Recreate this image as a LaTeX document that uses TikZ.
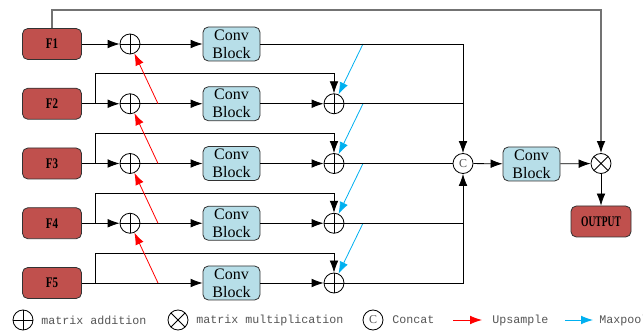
\documentclass[tikz,border=0pt]{standalone}
\usepackage{fontspec}
\usepackage{graphicx}
\setmainfont{Liberation Serif}
\setmonofont{Liberation Mono}
\usetikzlibrary{arrows.meta}

\definecolor{featred}{RGB}{192,80,77}
\definecolor{convblue}{RGB}{183,222,232}
\definecolor{edgegray}{RGB}{50,50,50}
\definecolor{upred}{RGB}{255,0,0}
\definecolor{poolblue}{RGB}{0,176,240}
\definecolor{keygray}{RGB}{85,85,85}

% condensed bold labels
\newcommand{\narrowlab}[2]{\scalebox{#1}[1]{\bfseries #2}}

\tikzset{
  feat/.style={draw=edgegray, fill=featred, rounded corners=4pt, line width=0.6pt,
    minimum width=44.25pt, minimum height=23.25pt, inner sep=0pt,
    font=\fontsize{11}{11}\selectfont},
  conv/.style={draw=edgegray, fill=convblue, rounded corners=4pt, line width=0.6pt,
    minimum width=42.75pt, minimum height=25.5pt, inner sep=0pt, align=center,
    font=\fontsize{12}{13.5}\selectfont},
  opr/.style={circle, draw, line width=0.6pt, minimum size=15pt, inner sep=0pt},
  plus/.style={opr, path picture={
    \draw[line width=0.6pt] (path picture bounding box.north) -- (path picture bounding box.south)
      (path picture bounding box.west) -- (path picture bounding box.east);}},
  times/.style={opr, path picture={
    \draw[line width=0.6pt] (path picture bounding box.north west) -- (path picture bounding box.south east)
      (path picture bounding box.south west) -- (path picture bounding box.north east);}},
  cat/.style={opr, text=keygray, font=\fontsize{9}{9}\selectfont},
  arr/.style={-{Latex[length=9pt,width=6.5pt]}, line width=0.6pt},
  up/.style={arr, color=upred},
  pool/.style={arr, color=poolblue},
  key/.style={anchor=west, inner sep=0pt, text=keygray, font=\ttfamily\fontsize{8.75}{8.75}\selectfont},
}

\begin{document}
\begin{tikzpicture}[x=0.75pt,y=0.75pt,yscale=-1,xscale=1]
\useasboundingbox (0,0) rectangle (643,331);
% input features
\node[feat] (F1) at (52,44) {\narrowlab{0.75}{F1}};
\node[feat] (F2) at (52,103.75) {\narrowlab{0.75}{F2}};
\node[feat] (F3) at (52,163.5) {\narrowlab{0.75}{F3}};
\node[feat] (F4) at (52,223.25) {\narrowlab{0.75}{F4}};
\node[feat] (F5) at (52,283) {\narrowlab{0.75}{F5}};
% top-down additions
\node[plus] (lp1) at (130,44) {};
\node[plus] (lp2) at (130,103.75) {};
\node[plus] (lp3) at (130,163.5) {};
\node[plus] (lp4) at (130,223.25) {};
% conv blocks
\node[conv] (cv1) at (231.5,44) {Conv\\Block};
\node[conv] (cv2) at (231.5,103.75) {Conv\\Block};
\node[conv] (cv3) at (231.5,163.5) {Conv\\Block};
\node[conv] (cv4) at (231.5,223.25) {Conv\\Block};
\node[conv] (cv5) at (231.5,283) {Conv\\Block};
% bottom-up additions
\node[plus] (rp2) at (334,103.75) {};
\node[plus] (rp3) at (334,163.5) {};
\node[plus] (rp4) at (334,223.25) {};
\node[plus] (rp5) at (334,283) {};
% fusion
\node[cat] (cat) at (463,163.5) {C};
\node[conv] (cv6) at (531.5,164) {Conv\\Block};
\node[times] (mul) at (601,163.5) {};
\node[feat, minimum width=45pt] (out) at (601,221.5) {\narrowlab{0.65}{OUTPUT}};

% branch points
\coordinate (b2) at (95,103.75);
\coordinate (b3) at (95,163.5);
\coordinate (b4) at (95,223.25);
\coordinate (b5) at (95,283);
\coordinate (u2) at (158,103.75);
\coordinate (u3) at (158,163.5);
\coordinate (u4) at (158,223.25);
\coordinate (u5) at (158,283);
\coordinate (d1) at (363,44);
\coordinate (d2) at (363,103.75);
\coordinate (d3) at (363,163.5);
\coordinate (d4) at (363,223.25);

% main rows
\draw[arr] (F1) -- (lp1);
\draw[arr] (F2) -- (lp2);
\draw[arr] (F3) -- (lp3);
\draw[arr] (F4) -- (lp4);
\draw[arr] (F5) -- (cv5);
\draw[arr] (lp1) -- (cv1);
\draw[arr] (lp2) -- (cv2);
\draw[arr] (lp3) -- (cv3);
\draw[arr] (lp4) -- (cv4);
\draw[arr] (cv2) -- (rp2);
\draw[arr] (cv3) -- (rp3);
\draw[arr] (cv4) -- (rp4);
\draw[arr] (cv5) -- (rp5);
% skip lines
\draw[arr] (b2) -- ++(0,-30) -| (rp2);
\draw[arr] (b3) -- ++(0,-30) -| (rp3);
\draw[arr] (b4) -- ++(0,-30) -| (rp4);
\draw[arr] (b5) -- ++(0,-30) -| (rp5);
\draw[-{Latex[length=9pt,width=6.5pt,color=black]}, draw=gray!90!black, line width=0.9pt] (F1.north) -- ++(0,-18) -| (mul);
% upsample
\draw[up] (u2) -- (lp1);
\draw[up] (u3) -- (lp2);
\draw[up] (u4) -- (lp3);
\draw[up] (u5) -- (lp4);
% maxpool
\draw[pool] (d1) -- (rp2);
\draw[pool] (d2) -- (rp3);
\draw[pool] (d3) -- (rp4);
\draw[pool] (d4) -- (rp5);
% into concat
\draw[arr] (cv1) -| (cat);
\draw[line width=0.6pt] (rp2) -- (rp2 -| cat);
\draw[line width=0.6pt] (rp3) -- (cat);
\draw[line width=0.6pt] (rp4) -- (rp4 -| cat);
\draw[arr] (rp5) -| (cat);
\draw[arr] (cat) -- (cv6);
\draw[arr] (cv6) -- (mul);
\draw[arr] (mul) -- (out);

% legend
\node[plus] (kp) at (23,320) {};
\node[key] (kpt) at (41,320) {matrix addition};
\node[times] (km) at (178,320) {};
\node[key] (kmt) at (196,320) {matrix multiplication};
\node[cat] (kc) at (373,320) {C};
\node[key] (kct) at (392,320) {Concat};
\coordinate (ku) at (453,320);
\coordinate (kue) at (482,320);
\node[key] (kut) at (492,320) {Upsample};
\coordinate (kd) at (565,320);
\coordinate (kde) at (593,320);
\node[key] (kdt) at (599,320) {Maxpool};
\draw[up] (ku) -- (kue);
\draw[pool] (kd) -- (kde);
\end{tikzpicture}
\end{document}
